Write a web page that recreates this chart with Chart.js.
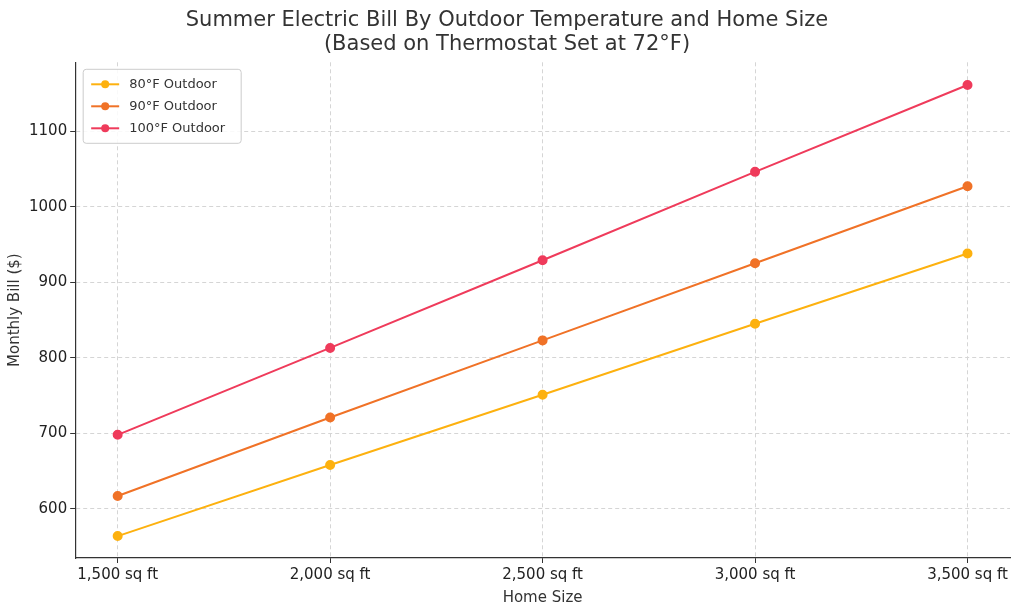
<!DOCTYPE html>
<html>
<head>
<meta charset="utf-8">
<script src="https://cdn.jsdelivr.net/npm/chart.js@4"></script>
<style>
  html, body { margin: 0; background: #fff; }
  #wrap { width: 1024px; height: 613px; }
</style>
</head>
<body>
<div id="wrap"><canvas id="chart"></canvas></div>
<script>
// home sizes (sq ft) and monthly bills
const homeSizes = [1500, 2000, 2500, 3000, 3500];
const bill80 = [564, 658, 751, 845, 938];
const bill90 = [617, 721, 823, 925, 1027];
const bill100 = [698, 813, 929, 1046, 1161];
const yTicks = [600, 700, 800, 900, 1000, 1100];

function pts(vals) {
    return homeSizes.map((x, i) => ({ x: x, y: vals[i] }));
}

function series(label, vals, color) {
    return {
        label: label,
        data: pts(vals),
        borderColor: color,
        backgroundColor: color,
        borderWidth: 2,
        pointRadius: 4,
        pointHoverRadius: 4,
        tension: 0
    };
}

const fam = '"DejaVu Sans", sans-serif';
const font = { family: fam };

// legend box drawn inside the plot area, top left
const boxLegend = {
    id: 'boxLegend',
    afterDraw(chart) {
        const ctx = chart.ctx, a = chart.chartArea;
        const x0 = a.left + 8, y0 = a.top + 7, w = 158, rowH = 22;
        const sets = chart.data.datasets;
        ctx.save();
        ctx.fillStyle = 'rgba(255,255,255,0.85)';
        ctx.strokeStyle = '#ccc';
        ctx.lineWidth = 1;
        ctx.beginPath();
        ctx.roundRect(x0, y0, w, 8 + rowH * sets.length, 3);
        ctx.fill();
        ctx.stroke();
        ctx.font = '13px ' + fam;
        ctx.textBaseline = 'middle';
        sets.forEach((ds, i) => {
            const cy = y0 + 15 + i * rowH;
            ctx.strokeStyle = ds.borderColor;
            ctx.lineWidth = 2;
            ctx.beginPath();
            ctx.moveTo(x0 + 8, cy);
            ctx.lineTo(x0 + 36, cy);
            ctx.stroke();
            ctx.fillStyle = ds.borderColor;
            ctx.beginPath();
            ctx.arc(x0 + 22, cy, 4, 0, Math.PI * 2);
            ctx.fill();
            ctx.fillStyle = '#333';
            ctx.fillText(ds.label, x0 + 46, cy);
        });
        ctx.restore();
    }
};

new Chart(document.getElementById('chart'), {
    type: 'line',
    data: {
        datasets: [
            series('80°F Outdoor', bill80, '#FDB10F'),
            series('90°F Outdoor', bill90, '#F07227'),
            series('100°F Outdoor', bill100, '#EF3B5B')
        ]
    },
    plugins: [boxLegend],
    options: {
        responsive: true,
        maintainAspectRatio: false,
        animation: false,
        layout: { padding: { left: 4, right: 14, top: 0, bottom: 4 } },
        plugins: {
            title: {
                display: true,
                text: ['Summer Electric Bill By Outdoor Temperature and Home Size', '(Based on Thermostat Set at 72°F)'],
                color: '#333',
                font: { ...font, size: 21, weight: 'normal', lineHeight: 1.15 },
                padding: { top: 8, bottom: 6 }
            },
            legend: { display: false },
            tooltip: { enabled: false }
        },
        scales: {
            x: {
                type: 'linear',
                min: 1400,
                max: 3600,
                afterBuildTicks: axis => { axis.ticks = homeSizes.map(v => ({ value: v })); },
                ticks: {
                    color: '#222',
                    font: { ...font, size: 15 },
                    callback: v => v.toLocaleString('en-US') + ' sq ft'
                },
                title: { display: true, text: 'Home Size', color: '#333', font: { ...font, size: 15 }, padding: 2 },
                grid: { color: '#d5d5d5', drawTicks: true, tickColor: '#333', tickLength: 5 },
                border: { color: '#333', width: 1.2, dash: [4, 3] }
            },
            y: {
                min: 535,
                max: 1191,
                afterBuildTicks: axis => { axis.ticks = yTicks.map(v => ({ value: v })); },
                ticks: { color: '#222', font: { ...font, size: 15 }, callback: v => String(v) },
                title: { display: true, text: 'Monthly Bill ($)', color: '#333', font: { ...font, size: 15 }, padding: 2 },
                grid: { color: '#d5d5d5', drawTicks: true, tickColor: '#333', tickLength: 5 },
                border: { color: '#333', width: 1.2, dash: [4, 3] }
            }
        }
    }
});
</script>
</body>
</html>
